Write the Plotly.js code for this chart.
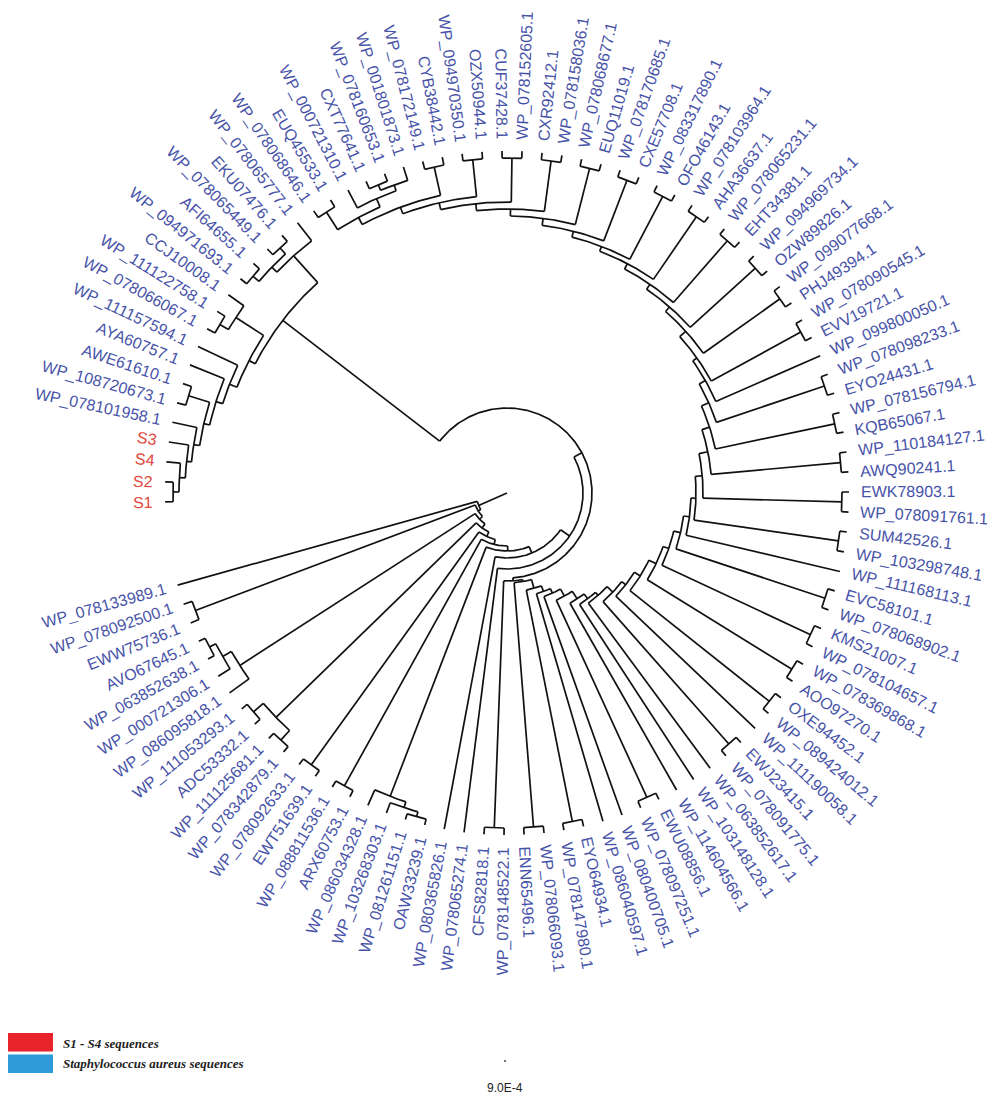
<!DOCTYPE html>
<html><head><meta charset="utf-8">
<script src="https://cdn.plot.ly/plotly-3.0.1.min.js"></script>
<style>html,body{margin:0;padding:0;background:#fff}</style>
</head><body>
<div id="chart" style="width:992px;height:1104px"></div>
<script>
// ---- DATA ----
const leafNames = ["S1","S2","S4","S3","WP_078101958.1","WP_108720673.1","AWE61610.1","AYA60757.1","WP_111157594.1","WP_078066067.1",
"WP_111122758.1","CCJ10008.1","WP_094971693.1","AFI64655.1","WP_078065449.1","EKU07476.1","WP_078065777.1","WP_078068646.1","EUQ45533.1","WP_000721310.1",
"CXT77641.1","WP_078160653.1","WP_001801873.1","WP_078172149.1","CYB38442.1","WP_094970350.1","OZX50944.1","CUF37428.1","WP_078152605.1","CXR92412.1",
"WP_078158036.1","WP_078068677.1","EUQ11019.1","WP_078170685.1","CXE57708.1","WP_083317890.1","OFO46143.1","WP_078103964.1","AHA36637.1","WP_078065231.1",
"EHT34381.1","WP_094969734.1","OZW89826.1","WP_099077668.1","PHJ49394.1","WP_078090545.1","EVV19721.1","WP_099800050.1","WP_078098233.1","EYO24431.1",
"WP_078156794.1","KQB65067.1","WP_110184127.1","AWQ90241.1","EWK78903.1","WP_078091761.1","SUM42526.1","WP_103298748.1","WP_111168113.1","EVC58101.1",
"WP_078068902.1","KMS21007.1","WP_078104657.1","WP_078369868.1","AOO97270.1","OXE94452.1","WP_089424012.1","WP_111190058.1","EWJ23415.1","WP_078091775.1",
"WP_063852617.1","WP_103148128.1","WP_114604566.1","EWU08856.1","WP_078097251.1","WP_080400705.1","WP_086040597.1","EYO64934.1","WP_078147980.1","WP_078066093.1",
"ENN65496.1","WP_078148522.1","CFS82818.1","WP_078065274.1","WP_080365826.1","OAW33239.1","WP_081261151.1","WP_103268303.1","WP_086034328.1","ARX60753.1",
"WP_088811536.1","EWT51639.1","WP_078092633.1","WP_078342879.1","WP_111125681.1","ADC53332.1","WP_111053293.1","WP_086095818.1","WP_000721306.1","WP_063852638.1",
"AVO67645.1","EWW75736.1","WP_078092500.1","WP_078133989.1"];
const studyLeaves = ["S1","S2","S3","S4"];

// clades hanging on the inner backbone (numbers = leaf position, ":d" = node depth)
const innerLadderClades = ["104","(102,103):333","(((100,101):335,99):328,98):318","((96,97):335,(94,95):335):322",
  "(92,93):335","(90,91):335","(89,(88,(86,87):336):331):325","85","84"];
const innerLadderDepths = [31,34,38,43,48,53,58,65,76];
const junctionDepth = 85;
// clades hanging on the outer backbone
const outerLadderClades = ["(82,83):335","(80,81):335","(78,79):335","77","76","(74,75):335","73","72","71","(69,70):335",
  "68","(66,67):335","(64,65):335","(62,63):335","(60,61):335","59","(57,58):335","(55,56):335","(53,54):335","(51,52):335",
  "(49,50):335","48","(46,47):335","(44,45):335","(42,43):335","(40,41):335","(38,39):335","(36,37):335","(34,35):335","(32,33):335",
  "(30,31):335","(28,29):335","(26,27):335","(24,25):334"];
const outerLadderDepths = [88,90,99,105,110,118,127,133,137,145,150,157,165,171,178,184,189,196,205,213,
  221,228,233,241,247,253,259,264,270,277,284,291,298,305];
const outerLadderEnd = "((18,19):334,(20,((21,22):334,23):328):322):313";
const studyClade = "((((10,11):333,12):323,(9,(8,((6,7):333,(5,(4,(3,(1,2):334):328):322):317):311):305):298):290,(((13,14):334,(15,16):334):326,17):319):283";
const tipDepth = 342;

const legendLabels = ["S1 - S4 sequences","Staphylococcus aureus sequences"];
const legendColors = ["#e8232a","#2e9bd9"];
const scaleLabel = "9.0E-4";

// ---- LAYOUT ----
const CX = 507, CY = 493;
const startAngle = 181.5, angleStep = 3.358;
const labelR = 354;
const FONT = "Liberation Sans, Arial, sans-serif";
const blue = "#4753a8", red = "#e0463b";

function parseNewick(s){
  let i=0;
  function node(){
    let n;
    if(s[i]==='('){
      i++; const ch=[];
      while(true){ ch.push(node()); if(s[i]===','){i++;continue;} if(s[i]===')'){i++;break;} }
      n={children:ch};
    } else {
      let t=''; while(i<s.length && /[0-9]/.test(s[i])) t+=s[i++];
      n={leaf:parseInt(t,10)};
    }
    if(s[i]===':'){ i++; let t=''; while(i<s.length && /[0-9.]/.test(s[i])) t+=s[i++]; n.depth=parseFloat(t); }
    return n;
  }
  return node();
}
function buildLadder(clades, depths, endNode){
  let node = endNode;
  for(let k=clades.length-1;k>=0;k--){
    node = {children:[parseNewick(clades[k]), node], depth:depths[k]};
  }
  return node;
}
const outerRoot = buildLadder(outerLadderClades, outerLadderDepths, parseNewick(outerLadderEnd));
const junction = {children:[outerRoot, parseNewick(studyClade)], depth:junctionDepth};
const root = buildLadder(innerLadderClades, innerLadderDepths, junction);

const leafAngle = i => startAngle - (i-1)*angleStep;
function place(n){
  if(n.leaf!=null){ n.angle=leafAngle(n.leaf); if(n.depth==null) n.depth=tipDepth; n.min=n.max=n.angle; return; }
  n.children.forEach(place);
  const a=n.children.map(c=>c.angle);
  n.min=Math.min(...a); n.max=Math.max(...a); n.angle=(n.min+n.max)/2;
}
place(root);

const X=[],Y=[];
const pt=(r,a)=>[CX+r*Math.cos(a*Math.PI/180), CY-r*Math.sin(a*Math.PI/180)];
function seg(r1,r2,a){ const p=pt(r1,a),q=pt(r2,a); X.push(p[0],q[0],null); Y.push(p[1],q[1],null); }
function arc(r,a1,a2){ const n=Math.max(2,Math.ceil((a2-a1)/0.5)); for(let k=0;k<=n;k++){ const p=pt(r,a1+(a2-a1)*k/n); X.push(p[0]); Y.push(p[1]); } X.push(null); Y.push(null); }
function draw(n,pd){
  seg(pd,n.depth,n.angle);
  if(n.children){ arc(n.depth,n.min,n.max); n.children.forEach(c=>draw(c,n.depth)); }
}
draw(root,0);

// ---- LABELS ----
const cv=document.createElement('canvas').getContext('2d');
cv.font="16px 'Liberation Sans', Arial, sans-serif";
const annotations=[];
leafNames.forEach((name,idx)=>{
  let a=leafAngle(idx+1);
  let an=((a+180)%360+360)%360-180;
  let ta;
  if(Math.cos(an*Math.PI/180)>=0) ta=-an; else { ta=180-an; if(ta>180) ta-=360; }
  const w=cv.measureText(name).width;
  const p=pt(labelR+w/2,a);
  annotations.push({x:p[0],y:p[1],xref:'x',yref:'y',text:name,showarrow:false,textangle:ta,
    xanchor:'center',yanchor:'middle',font:{family:FONT,size:16,color:studyLeaves.includes(name)?red:blue}});
});
const shapes=[];
legendLabels.forEach((t,k)=>{
  shapes.push({type:'rect',xref:'x',yref:'y',x0:8,x1:53,y0:1033+k*21.5,y1:1051.5+k*21.5,fillcolor:legendColors[k],line:{width:0}});
  annotations.push({x:61,y:1043+k*20,xref:'x',yref:'y',text:t,showarrow:false,xanchor:'left',yanchor:'middle',
    font:{family:"Liberation Serif, serif",size:13,color:'#222',style:'italic',weight:'bold'}});
});
annotations.push({x:505,y:1088,xref:'x',yref:'y',text:scaleLabel,showarrow:false,xanchor:'center',yanchor:'middle',
  font:{family:FONT,size:12,color:'#222'}});
shapes.push({type:'line',xref:'x',yref:'y',x0:504,x1:506,y0:1061,y1:1061,line:{color:'#444',width:1.5}});

Plotly.newPlot('chart',[{x:X,y:Y,mode:'lines',type:'scatter',line:{color:'#111',width:1.7},hoverinfo:'skip',showlegend:false}],{
  width:992,height:1104,margin:{l:0,r:0,t:0,b:0},paper_bgcolor:'#fff',plot_bgcolor:'#fff',
  xaxis:{range:[0,992],visible:false,fixedrange:true},
  yaxis:{range:[1104,0],visible:false,fixedrange:true},
  annotations:annotations,shapes:shapes,showlegend:false
},{staticPlot:true});
</script>
</body></html>
